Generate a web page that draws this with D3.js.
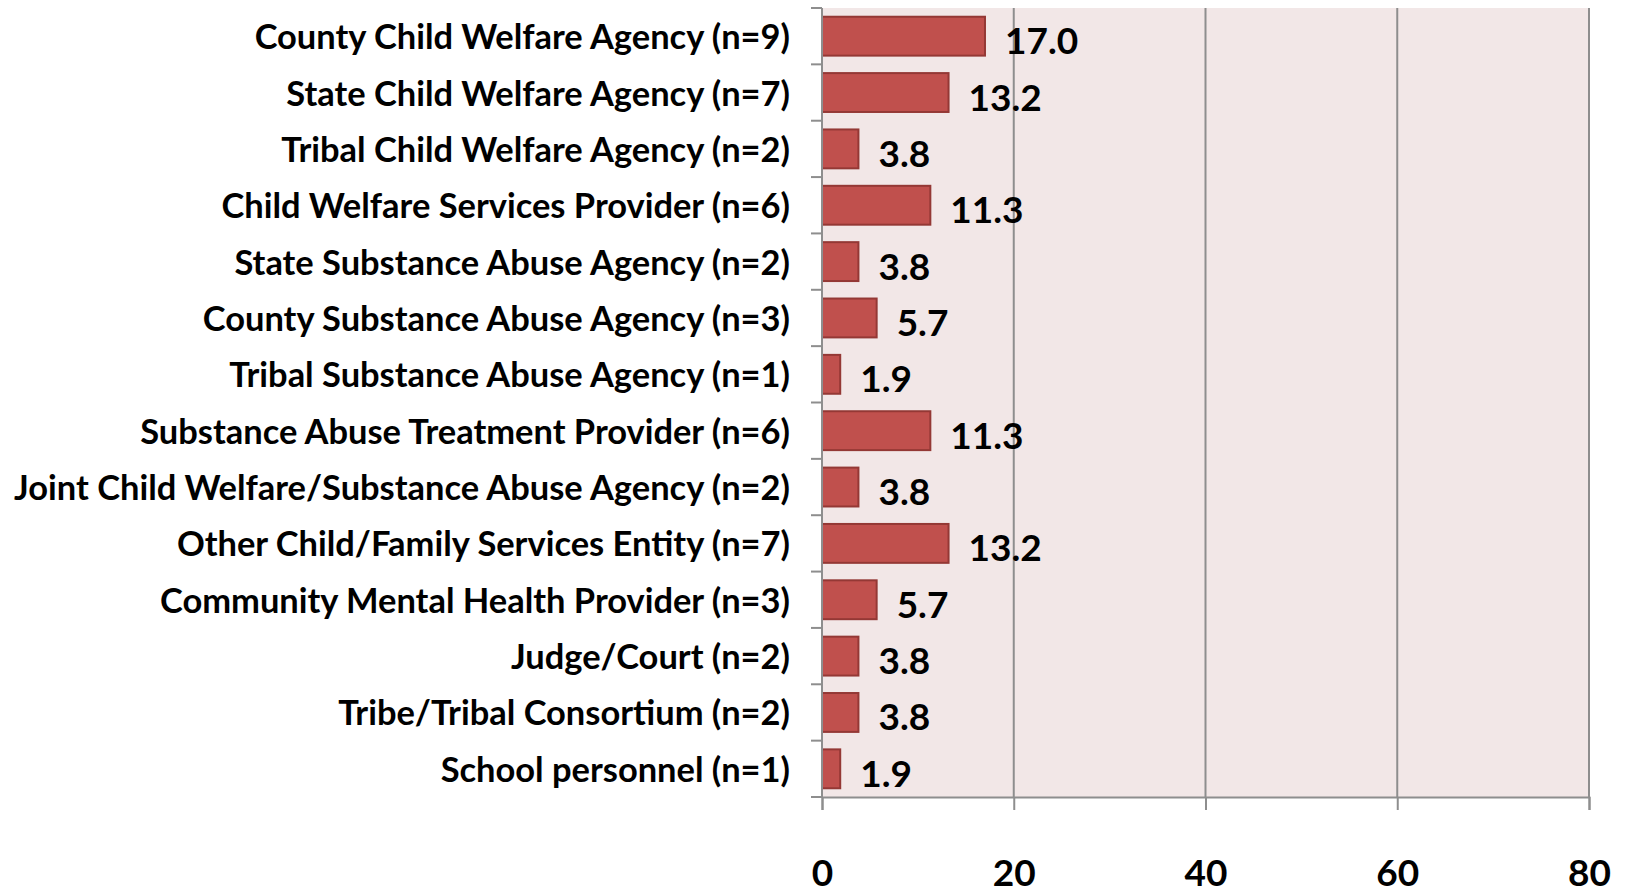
<!DOCTYPE html>
<html>
<head>
<meta charset="utf-8">
<script src="https://cdn.jsdelivr.net/npm/d3@7"></script>
<style>
  body { margin: 0; background: #fff; }
  svg text { font-family: Lato, "Open Sans", sans-serif; font-weight: bold; fill: #000; }
</style>
</head>
<body>
<div id="chart"></div>
<script>
// data
var categories = [
  "County Child Welfare Agency (n=9)",
  "State Child Welfare Agency (n=7)",
  "Tribal Child Welfare Agency (n=2)",
  "Child Welfare Services Provider (n=6)",
  "State Substance Abuse Agency (n=2)",
  "County Substance Abuse Agency (n=3)",
  "Tribal Substance Abuse Agency (n=1)",
  "Substance Abuse Treatment Provider (n=6)",
  "Joint Child Welfare/Substance Abuse Agency (n=2)",
  "Other Child/Family Services Entity (n=7)",
  "Community Mental Health Provider (n=3)",
  "Judge/Court (n=2)",
  "Tribe/Tribal Consortium (n=2)",
  "School personnel (n=1)"
];
var values = [17.0, 13.2, 3.8, 11.3, 3.8, 5.7, 1.9, 11.3, 3.8, 13.2, 5.7, 3.8, 3.8, 1.9];
var xTicks = [0, 20, 40, 60, 80];

var W = 1625, H = 893;
// plot area edges
var plot = {x0: 822, x1: 1589, y0: 8, y1: 797};

var svg = d3.select("#chart")
  .append("svg")
  .attr("width", W)
  .attr("height", H);

// scales
var x = d3.scaleLinear().domain([0, 80]).range([plot.x0, plot.x1]);
var y = d3.scaleBand()
  .domain(categories)
  .range([plot.y0, plot.y1])
  .paddingInner(0.31)
  .paddingOuter(0.155);
var step = y.step();

// plot background
svg.append("rect")
  .attr("x", plot.x0)
  .attr("y", plot.y0)
  .attr("width", plot.x1 - plot.x0)
  .attr("height", plot.y1 - plot.y0)
  .attr("fill", "#F2E7E7");

// vertical gridlines
svg.append("g")
  .selectAll("line")
  .data(xTicks.slice(1))
  .enter()
  .append("line")
    .attr("x1", function(d) { return x(d); })
    .attr("x2", function(d) { return x(d); })
    .attr("y1", plot.y0)
    .attr("y2", plot.y1)
    .attr("stroke", "#8E8E8E")
    .attr("stroke-width", 2);

// bars
svg.append("g")
  .selectAll("rect")
  .data(values)
  .enter()
  .append("rect")
    .attr("x", x(0))
    .attr("y", function(d, i) { return y(categories[i]); })
    .attr("width", function(d) { return x(d) - x(0); })
    .attr("height", y.bandwidth())
    .attr("fill", "#C0504D")
    .attr("stroke", "#943835")
    .attr("stroke-width", 2);

// value labels
svg.append("g")
  .selectAll("text")
  .data(values)
  .enter()
  .append("text")
    .attr("x", function(d) { return x(d) + 20; })
    .attr("y", function(d, i) { return y(categories[i]) + y.bandwidth() / 2 + 18; })
    .text(function(d) { return d.toFixed(1); })
    .style("font-size", "37px");

// x axis
var xAxis = svg.append("g")
  .attr("transform", "translate(0," + plot.y1 + ")")
  .call(d3.axisBottom(x).tickValues(xTicks).tickSize(13).tickPadding(50).tickFormat(d3.format("d")));
xAxis.select(".domain").attr("stroke", "#8E8E8E").attr("stroke-width", 2);
xAxis.selectAll(".tick line").attr("stroke", "#8E8E8E").attr("stroke-width", 2);
xAxis.selectAll(".tick text")
  .style("font-size", "37px")
  .attr("fill", "#000");

// y axis line and ticks at band boundaries
svg.append("line")
  .attr("x1", plot.x0).attr("x2", plot.x0)
  .attr("y1", plot.y0).attr("y2", plot.y1)
  .attr("stroke", "#8E8E8E")
  .attr("stroke-width", 2);
svg.append("g")
  .selectAll("line")
  .data(d3.range(categories.length + 1))
  .enter()
  .append("line")
    .attr("x1", plot.x0 - 11)
    .attr("x2", plot.x0)
    .attr("y1", function(i) { return plot.y0 + i * step; })
    .attr("y2", function(i) { return plot.y0 + i * step; })
    .attr("stroke", "#8E8E8E")
    .attr("stroke-width", 2);

// category labels, squeezed to match the narrow original face
var labelRight = 790;
var labels = svg.append("g");
labels.selectAll("text")
  .data(categories)
  .enter()
  .append("text")
    .attr("x", 0)
    .attr("y", function(d) { return y(d) + y.bandwidth() / 2 + 13; })
    .attr("text-anchor", "end")
    .text(function(d) { return d; })
    .style("font-size", "34px");
var maxW = d3.max(labels.selectAll("text").nodes(), function(n) { return n.getComputedTextLength(); });
var sx = (labelRight - 14) / maxW;
labels.attr("transform", "translate(" + labelRight + ",0) scale(" + sx + ",1)");
</script>
</body>
</html>
